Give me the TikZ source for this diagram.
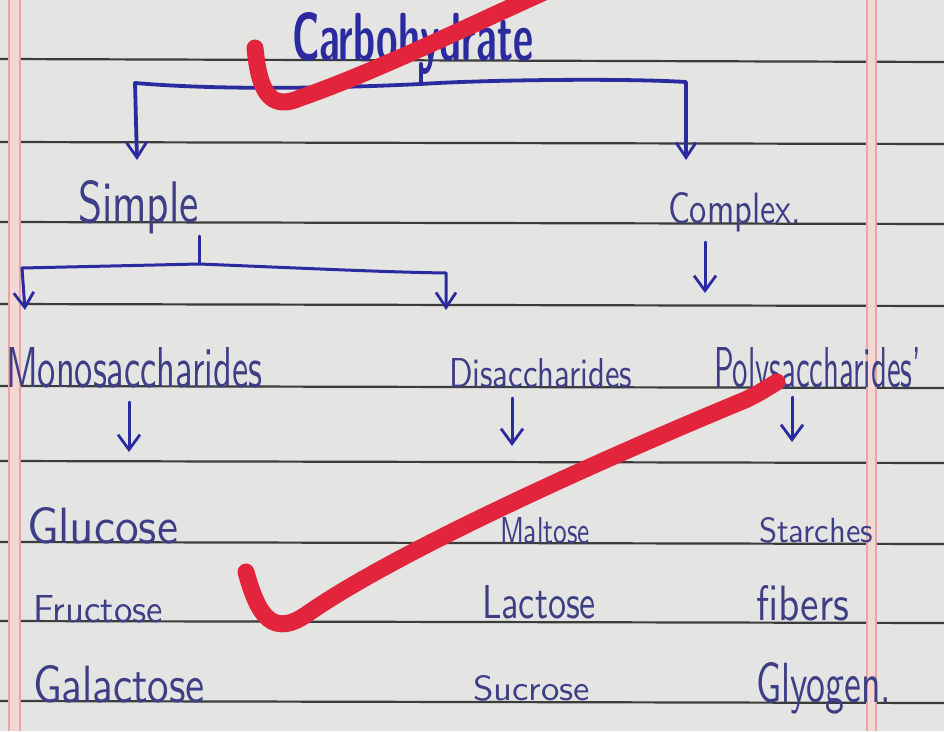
\documentclass[tikz,border=0pt]{standalone}
\usetikzlibrary{arrows.meta}
\definecolor{paper}{HTML}{E4E4E2}
\definecolor{rule}{HTML}{3C3C3C}
\definecolor{margin}{HTML}{E6A6A2}
\definecolor{ink}{HTML}{2B2BA0}
\definecolor{pencil}{HTML}{3E3E86}
\definecolor{tick}{HTML}{E2243C}
\newcommand\hw[3]{\resizebox{#1pt}{#2pt}{#3}}
\tikzset{
  label/.style={anchor=base west, inner sep=0pt, outer sep=0pt, text=pencil, font=\sffamily},
  titlelabel/.style={anchor=base west, inner sep=0pt, outer sep=0pt, text=ink, font=\sffamily\bfseries},
  connector/.style={draw=ink, line width=3.8pt, line cap=round, line join=round},
  branch/.style={draw=ink, line width=3pt, line cap=round, line join=round},
  tipped/.style={-{Straight Barb[length=15pt,width=22pt,line width=2.8pt]}},
  bothtips/.style={{Straight Barb[length=15pt,width=20pt,line width=2.8pt]}-{Straight Barb[length=15pt,width=20pt,line width=2.8pt]}},
  ruleline/.style={draw=rule, line width=2.2pt},
  marginline/.style={draw=margin, line width=1.6pt},
  checkmark/.style={draw=tick, line width=17pt, line cap=round, line join=round},
}
\begin{document}
\begin{tikzpicture}[x=1pt,y=-1pt]
\useasboundingbox (0,0) rectangle (944,731);
\fill[paper] (0,0) rectangle (944,731);
% ruled lines
\foreach \a/\b in {59/62,142/144,222/224,304/306,386/388,461/463,542/544,621/623,701/703}
  \draw[ruleline] (0,\a) -- (944,\b);
% margins
\fill[margin!45] (8,0) rectangle (21,731);
\draw[marginline] (9,0) -- (9,731);
\draw[marginline] (20,0) -- (20,731);
\fill[margin!45] (866,0) rectangle (877,731);
\draw[marginline] (867,0) -- (867,731);
\draw[marginline] (876,0) -- (876,731);
% texts
\node[titlelabel] (title) at (292,60) {\hw{241}{48}{Carbohydrate}};
\node[label] (simple) at (78,222) {\hw{121}{42}{Simple}};
\node[label] (complex) at (668,223) {\hw{133}{31}{Complex.}};
\node[label] (mono) at (6,387) {\hw{256}{40}{Monosaccharides}};
\node[label] (di) at (449,387) {\hw{183}{29}{Disaccharides}};
\node[label] (poly) at (714,387) {\hw{207}{40}{Polysaccharides'}};
\node[label] (glucose) at (27,543) {\hw{151}{36}{Glucose}};
\node[label] (maltose) at (500,543) {\hw{90}{26}{Maltose}};
\node[label] (starches) at (759,542) {\hw{114}{25}{Starches}};
\node[label] (fructose) at (33,622) {\hw{130}{27}{Fructose}};
\node[label] (lactose) at (482,618) {\hw{114}{33}{Lactose}};
\node[label] (fibers) at (756,620) {\hw{93}{35}{fibers}};
\node[label] (galactose) at (33,702) {\hw{172}{37}{Galactose}};
\node[label] (sucrose) at (473,700) {\hw{117}{25}{Sucrose}};
\node[label] (glyogen) at (756,702) {\hw{135}{40}{Glyogen.}};
% connector points
\coordinate (tstem) at (421,64);
\coordinate (tj) at (421,84);
\coordinate (tl) at (135,83);
\coordinate (tr) at (686,82);
\coordinate (simpleIn) at (137,160);
\coordinate (complexIn) at (686,160);
\coordinate (sstem) at (199,236);
\coordinate (sj) at (199,264);
\coordinate (sl) at (22,268);
\coordinate (sr) at (446,273);
\coordinate (monoIn) at (25,310);
\coordinate (diIn) at (446,310);
\coordinate (cxOut) at (705,242);
\coordinate (polyIn) at (705,293);
\coordinate (monoOut) at (129,402);
\coordinate (glucoseIn) at (129,452);
\coordinate (diOut) at (512,398);
\coordinate (maltoseIn) at (512,446);
\coordinate (polyOut) at (792,397);
\coordinate (starchesIn) at (792,442);
% connectors
\draw[connector] (tstem) -- (tj);
\draw[connector, bothtips] (simpleIn) -- (tl) .. controls (240,92) and (380,86) .. (tj)
  .. controls (480,80) and (620,78) .. (tr) -- (complexIn);
\draw[branch] (sstem) -- (sj);
\draw[branch, bothtips] (monoIn) -- (sl) -- (sj) .. controls (300,268) and (380,272) .. (sr) -- (diIn);
\draw[branch, tipped] (cxOut) -- (polyIn);
\draw[branch, tipped] (monoOut) -- (glucoseIn);
\draw[branch, tipped] (diOut) -- (maltoseIn);
\draw[branch, tipped] (polyOut) -- (starchesIn);
% red check marks
\draw[checkmark] (255,48) .. controls (259,88) and (268,112) .. (300,98)
  .. controls (380,70) and (470,25) .. (560,-15);
\draw[checkmark] (246,572) .. controls (258,615) and (272,640) .. (310,612)
  .. controls (400,550) and (600,460) .. (745,400)
  .. controls (760,393) and (770,386) .. (777,382);
\end{tikzpicture}
\end{document}
